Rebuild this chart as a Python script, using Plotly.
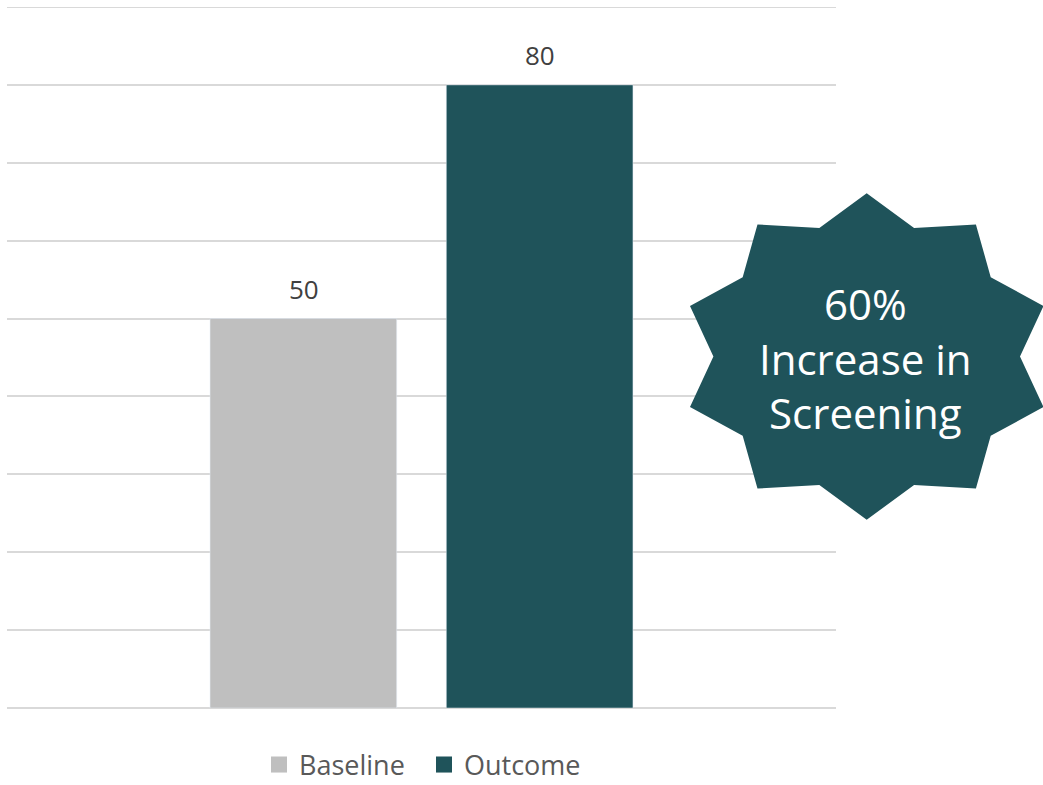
import math
import plotly.graph_objects as go

categories = ["Screening"]
series_names = ["Baseline", "Outcome"]
series_values = [[50], [80]]
series_colors = ["#BFBFBF", "#1F535A"]
callout_text = "60%<br>Increase in<br>Screening"
y_max = 90

W, H = 1043, 785
ML, MR, MT, MB = 7, 207, 7, 77
PW, PH = W - ML - MR, H - MT - MB

def px_to_paper(px, py):
    return (px - ML) / PW, (H - MB - py) / PH

fig = go.Figure()
label_shift = [-118, 118]
for i, (name, vals, col) in enumerate(zip(series_names, series_values, series_colors)):
    fig.add_trace(go.Bar(
        x=categories, y=vals, name=name, marker_color=col, showlegend=False,
    ))
    # legend proxy with a larger square symbol
    fig.add_trace(go.Scatter(
        x=[None], y=[None], mode="markers", name=name,
        marker=dict(symbol="square", size=16, color=col),
    ))
    for c, v in zip(categories, vals):
        fig.add_annotation(x=c, y=v, xref="x", yref="y", text=str(v),
                           showarrow=False, xshift=label_shift[i], yshift=30,
                           font=dict(size=26, color="#404040", family="Open Sans"),
                           xanchor="center", yanchor="middle")

# top gridline at the axis maximum
fig.add_shape(type="line", xref="paper", x0=0, x1=1, yref="y", y0=y_max, y1=y_max,
              line=dict(color="#D9D9D9", width=2), layer="below")

# 10-point starburst callout
cx, cy = 866.7, 356.5
rxo, ryo, rxi, ryi = 185.8, 163.3, 153.3, 135.0
pts = []
for k in range(20):
    ang = math.radians(90 - k * 18)
    if k % 2 == 0:
        px, py = cx + rxo * math.cos(ang), cy - ryo * math.sin(ang)
    else:
        px, py = cx + rxi * math.cos(ang), cy - ryi * math.sin(ang)
    pts.append(px_to_paper(px, py))
path = "M " + " L ".join(f"{x:.5f},{y:.5f}" for x, y in pts) + " Z"
fig.add_shape(type="path", path=path, xref="paper", yref="paper",
              fillcolor="#1F535A", line=dict(width=0), layer="above")

tx, ty = px_to_paper(866, 358)
fig.add_annotation(x=tx, y=ty, xref="paper", yref="paper", text=callout_text,
                   showarrow=False, font=dict(size=42, color="white", family="Open Sans"),
                   align="center", xanchor="center", yanchor="middle")

fig.update_layout(
    width=W, height=H,
    margin=dict(l=ML, r=MR, t=MT, b=MB, autoexpand=False),
    paper_bgcolor="white", plot_bgcolor="white",
    barmode="group", bargap=0.43, bargroupgap=0.21,
    showlegend=True,
    legend=dict(orientation="h", x=(424 - ML) / PW, xanchor="center",
                y=(H - 765) / H, yref="container", yanchor="middle",
                font=dict(size=27, color="#595959", family="Open Sans"),
                itemwidth=30, tracegroupgap=0,
                entrywidth=120, entrywidthmode="pixels"),
    xaxis=dict(showticklabels=False, showgrid=False, zeroline=False, showline=False),
    yaxis=dict(range=[0, y_max], tick0=0, dtick=10, showticklabels=False, showgrid=True,
               gridcolor="#D9D9D9", gridwidth=2, zeroline=True,
               zerolinecolor="#D9D9D9", zerolinewidth=2),
    font=dict(family="Open Sans"),
)

fig.write_html("out.html", config={"displayModeBar": False},
               post_script="document.body.style.margin='0';")
